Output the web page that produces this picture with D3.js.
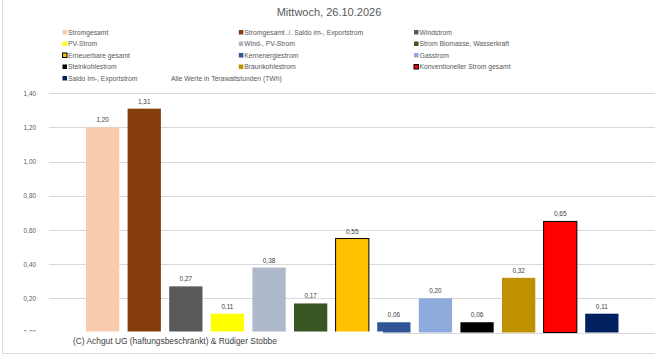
<!DOCTYPE html>
<html>
<head>
<meta charset="utf-8">
<script src="https://cdn.jsdelivr.net/npm/d3@7"></script>
<style>
  html, body { margin: 0; padding: 0; background: #fff; }
  svg { display: block; font-family: "Liberation Sans", Arial, sans-serif; }
</style>
</head>
<body>
<svg id="chart" width="655" height="355"></svg>
<script>
const title = "Mittwoch, 26.10.2026";
const categories = [
  "Stromgesamt",
  "Stromgesamt ./. Saldo im-, Exportstrom",
  "Windstrom",
  "PV-Strom",
  "Wind-, PV-Strom",
  "Strom Biomasse, Wasserkraft",
  "Erneuerbare gesamt",
  "Kernenergiestrom",
  "Gasstrom",
  "Steinkohlestrom",
  "Braunkohlestrom",
  "Konventioneller Strom gesamt",
  "Saldo Im-, Exportstrom"
];
const values = [1.20, 1.31, 0.27, 0.11, 0.38, 0.17, 0.55, 0.06, 0.20, 0.06, 0.32, 0.65, 0.11];
const colors = ["#F8CBAD", "#843C0C", "#595959", "#FFFF00", "#ADB9CA", "#375623",
                "#FFC000", "#2F5597", "#8FAADC", "#000000", "#BF9000", "#FF0000", "#002060"];
const outlined = [false, false, false, false, false, false, true, false, false, false, false, true, false];
const yTicks = [0, 0.2, 0.4, 0.6, 0.8, 1.0, 1.2, 1.4];
const unitNote = "Alle Werte in Terawattstunden (TWh)";
const footer = "(C) Achgut UG (haftungsbeschränkt) & Rüdiger Stobbe";

const svg = d3.select("#chart");
const fmt = v => d3.format(".2f")(v).replace(".", ",");

const x = d3.scaleBand().domain(categories).range([81.84, 622.64]).paddingInner(0.2).paddingOuter(0.1);
const y = d3.scaleLinear().domain([0, 1.4]).range([332.5, 93.3]);

// chart frame
svg.append("line").attr("x1", 2.5).attr("x2", 2.5).attr("y1", 0).attr("y2", 353.5)
  .attr("stroke", "#D9D9D9").attr("stroke-width", 1);
svg.append("line").attr("x1", 2).attr("x2", 655).attr("y1", 353.5).attr("y2", 353.5)
  .attr("stroke", "#D9D9D9").attr("stroke-width", 1);

// title
svg.append("text").attr("x", 329).attr("y", 16).attr("text-anchor", "middle")
  .attr("font-size", 11).attr("fill", "#595959").text(title);

// legend
const legendCols = [62.5, 238.8, 414];
const legendRows = [32.5, 44, 55.5, 67, 78.5];
const leg = svg.append("g");
categories.forEach((c, i) => {
  const cx = legendCols[i % 3];
  const cy = legendRows[Math.floor(i / 3)];
  leg.append("rect").attr("x", cx).attr("y", cy - 2.5).attr("width", 4.5).attr("height", 4.5)
    .attr("fill", colors[i])
    .attr("stroke", outlined[i] ? "#000" : "none").attr("stroke-width", outlined[i] ? 1 : 0);
  leg.append("text").attr("x", cx + 5.5).attr("y", cy + 2.4)
    .attr("font-size", 6.8).attr("fill", "#595959").text(c);
});
leg.append("text").attr("x", 171).attr("y", legendRows[4] + 2.4)
  .attr("font-size", 6.8).attr("fill", "#595959").text(unitNote);

// gridlines + y axis labels
const yAxis = d3.axisLeft(y).tickValues(yTicks).tickFormat(fmt).tickSize(0).tickPadding(0);
svg.append("g").selectAll("line").data(yTicks).join("line")
  .attr("x1", 49).attr("x2", 655)
  .attr("y1", d => Math.round(y(d)) + 0.5).attr("y2", d => Math.round(y(d)) + 0.5)
  .attr("stroke", "#D9D9D9").attr("stroke-width", 1);
const ya = svg.append("g").attr("transform", "translate(36,0)").call(yAxis);
ya.select(".domain").remove();
ya.selectAll("text").attr("font-size", 6.4).attr("fill", "#595959")
  .attr("font-family", "Liberation Sans, Arial, sans-serif");

// bars
svg.append("g").selectAll("rect").data(values).join("rect")
  .attr("x", (d, i) => x(categories[i]))
  .attr("width", x.bandwidth())
  .attr("y", d => y(d))
  .attr("height", d => y(0) - y(d))
  .attr("fill", (d, i) => colors[i])
  .attr("stroke", (d, i) => outlined[i] ? "#000" : "none")
  .attr("stroke-width", (d, i) => outlined[i] ? 1 : 0);

// data labels
svg.append("g").selectAll("text").data(values).join("text")
  .attr("x", (d, i) => x(categories[i]) + x.bandwidth() / 2)
  .attr("y", d => y(d) - 5)
  .attr("text-anchor", "middle")
  .attr("font-size", 6.4).attr("fill", "#404040")
  .text(d => fmt(d));

// copyright text box
svg.append("rect").attr("x", 20).attr("y", 331.5).attr("width", 363).attr("height", 20.5).attr("fill", "#fff");
svg.append("text").attr("x", 73).attr("y", 343.5)
  .attr("font-size", 8.4).attr("fill", "#404040").text(footer);
</script>
</body>
</html>
